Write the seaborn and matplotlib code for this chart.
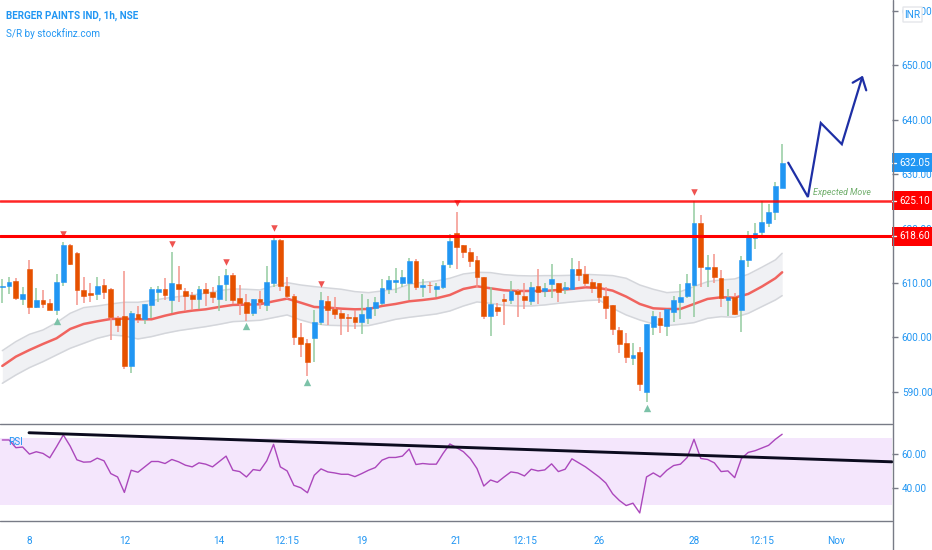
import matplotlib
matplotlib.use("Agg")
import matplotlib.pyplot as plt
from matplotlib.lines import Line2D
from matplotlib.patches import FancyBboxPatch, Rectangle
from matplotlib.transforms import blended_transform_factory
import numpy as np
import pandas as pd
import seaborn as sns

# candles, one value per hourly bar
opens = [609.33,609.51,610.43,607.06,612.51,605.59,606.87,606.32,605.10,610.18,
         616.98,615.45,608.71,608.16,608.04,609.69,608.96,603.51,603.93,594.68,
         604.30,603.38,606.02,608.41,608.96,606.94,609.88,608.53,607.79,607.12,
         608.96,608.35,607.12,609.75,611.53,607.24,606.51,604.55,607.06,606.02,
         609.94,617.90,609.45,607.61,600.01,598.91,599.89,602.83,606.69,605.16,
         604.42,603.75,603.75,602.83,603.56,605.40,606.32,608.96,610.24,610.06,
         609.94,613.98,609.20,609.69,608.96,609.33,613.49,619.19,616.98,615.70,
         614.23,611.16,603.93,605.59,607.06,606.87,608.53,607.61,606.75,609.51,
         608.53,609.88,610.06,608.90,608.90,612.51,611.59,610.24,610.06,607.61,
         606.02,601.30,598.91,596.16,597.38,590.03,601.97,603.51,602.16,604.73,
         606.57,607.67,609.57,621.03,612.63,612.88,610.98,606.94,607.37,605.04,
         614.23,618.33,619.37,621.03,622.99,627.40]
closes = [609.51,610.24,607.30,607.98,605.65,606.87,606.14,605.10,610.24,616.98,
          613.43,608.65,607.67,607.86,609.51,608.41,603.81,602.28,594.68,604.49,
          603.38,606.14,608.96,608.96,607.86,610.06,608.96,607.67,607.06,608.90,
          608.16,607.49,609.69,611.53,606.94,606.32,604.55,607.06,606.57,610.24,
          617.90,609.51,607.67,600.14,598.79,595.42,602.76,606.87,605.04,604.30,
          603.56,603.63,602.83,604.24,605.59,606.51,609.08,610.61,610.49,611.04,
          613.98,609.20,609.69,609.57,609.51,613.25,617.72,616.62,615.70,613.98,
          611.04,603.93,606.14,604.85,606.75,608.59,608.04,606.87,609.27,608.41,
          609.14,610.80,608.41,609.27,612.51,611.41,610.06,609.14,607.49,605.40,
          601.60,598.79,596.40,596.83,591.50,602.46,603.93,602.34,605.16,606.87,
          607.49,610.06,621.03,612.94,612.88,611.04,607.18,607.37,604.30,614.17,
          618.51,619.13,621.21,623.12,627.77,632.05]
highs = [610.74,611.04,610.98,609.20,614.23,609.02,608.71,607.06,611.59,617.54,
         617.11,615.70,611.16,609.94,611.04,610.67,609.02,603.93,612.14,604.85,
         605.77,606.14,609.33,609.45,610.86,615.70,613.12,609.02,608.41,609.51,
         609.94,609.33,611.35,612.57,611.78,609.69,607.98,607.06,608.59,613.12,
         618.51,618.03,611.04,607.92,602.59,599.64,605.04,608.41,607.61,607.49,
         605.04,604.30,605.04,607.98,607.12,607.49,610.67,611.22,612.70,612.39,
         614.53,614.35,610.67,610.24,609.94,614.04,619.01,623.12,616.98,616.37,
         614.96,611.16,609.20,606.38,607.98,610.43,608.84,610.06,610.24,612.51,
         610.06,613.49,610.06,610.24,614.53,614.04,613.12,610.67,610.06,609.33,
         606.02,601.97,600.75,598.91,598.18,602.46,604.85,604.73,605.16,607.67,
         609.75,611.59,625.07,622.50,615.15,615.33,612.39,608.84,608.10,614.96,
         619.56,620.97,625.07,624.52,628.63,635.55]
lows = [606.38,607.98,606.87,605.96,604.30,605.40,605.40,604.98,604.12,609.51,
        613.31,605.96,606.38,606.51,606.87,607.06,599.52,600.99,594.25,593.52,
        602.71,602.46,603.51,606.57,606.87,604.42,606.57,604.79,605.04,605.16,
        605.77,606.26,604.91,606.75,606.08,604.12,603.08,603.93,605.22,604.91,
        609.33,608.59,607.06,598.61,596.34,592.97,595.42,602.22,602.28,603.38,
        600.44,600.99,601.54,600.62,602.46,603.99,605.96,607.98,608.22,609.20,
        606.87,608.71,607.49,608.22,607.37,608.96,612.70,612.51,614.53,613.00,
        609.33,603.38,600.26,603.93,602.28,606.14,603.81,605.28,605.96,606.14,
        607.49,607.24,606.57,608.04,608.90,610.43,609.20,608.22,606.38,603.44,
        600.44,597.20,595.36,595.00,590.21,588.13,600.44,600.75,600.26,602.89,
        603.38,607.18,603.81,609.20,609.33,609.94,605.53,603.93,604.06,601.05,
        612.88,616.31,618.76,620.29,621.58,627.40]

# moving average and its band, read every second bar
ma_bars = list(range(0, 115, 2)) + [115]
ma_mid = [594.75,596.46,597.68,598.79,599.83,601.54,602.46,602.95,603.38,603.44,
          603.32,603.32,603.99,604.55,604.91,605.16,605.59,605.96,606.02,606.08,
          606.63,607.12,606.38,605.59,605.47,605.28,605.16,605.22,605.77,606.14,
          606.63,606.87,607.18,607.79,608.90,609.39,609.02,608.65,608.53,608.53,
          608.53,608.71,608.90,609.20,609.08,608.59,607.49,606.14,605.34,605.22,
          605.22,606.14,607.06,607.37,607.30,607.98,609.33,610.86,611.96]
ma_upper = [597.56,599.22,600.56,601.36,602.71,604.42,605.47,605.77,606.14,606.45,
            606.45,606.75,607.18,607.49,607.79,608.10,608.59,608.90,608.84,608.71,
            609.45,610.06,609.63,609.33,609.08,608.84,608.41,608.22,608.53,608.84,
            609.75,610.12,610.37,610.86,611.65,611.96,611.90,611.53,611.35,611.29,
            611.35,611.35,611.41,611.59,611.47,611.35,610.86,609.63,608.84,608.22,
            608.41,609.33,610.24,610.55,610.74,611.59,612.88,614.23,615.45]
ma_lower = [591.56,593.09,594.44,595.54,596.77,597.99,598.91,599.83,600.44,600.26,
            599.71,600.14,600.75,601.24,601.61,601.97,602.40,602.89,603.01,603.14,
            603.63,604.12,603.20,602.52,602.22,602.16,602.10,602.16,602.71,603.32,
            603.69,603.99,604.30,604.85,605.77,606.51,606.26,605.89,605.77,605.77,
            605.96,606.26,606.51,606.75,606.87,605.34,604.12,603.20,602.46,602.16,
            602.40,602.71,603.51,603.81,603.69,604.42,605.65,606.87,607.67]

# rsi, one value per bar
rsi = [68.6,68.6,64.0,64.4,60.2,61.6,60.6,58.0,64.6,71.6,65.0,56.8,55.4,55.6,57.8,56.2,
       48.6,46.6,37.4,50.6,49.4,52.6,55.8,55.8,54.6,57.0,55.6,53.6,52.6,55.0,54.2,52.6,
       55.8,59.0,50.6,49.8,46.6,51.0,50.4,56.2,66.0,52.6,50.2,41.6,40.2,37.2,47.6,51.4,
       49.6,49.0,48.2,48.2,46.8,48.6,50.6,52.2,56.6,58.2,58.2,59.0,63.2,54.0,54.6,54.2,
       54.2,60.6,66.2,64.0,61.6,57.6,51.6,41.2,44.8,43.4,46.6,49.6,49.0,47.2,51.2,50.2,
       50.8,54.4,49.8,51.2,57.4,55.0,52.6,49.6,46.6,43.0,36.6,32.6,29.6,31.0,25.2,46.6,
       49.0,46.6,50.6,53.4,54.2,58.2,69.0,57.6,57.0,55.0,49.8,50.2,46.2,57.6,61.2,62.2,
       63.8,65.4,69.0,72.0]

# signal triangles
sell_bars = [9, 25, 33, 40, 47, 67, 102]
sell_prices = [618.95, 617.11, 613.92, 620.05, 609.82, 624.64, 626.79]
buy_bars = [8, 36, 45, 95]
buy_prices = [603.01, 602.16, 591.86, 586.96]

# drawings
arrow_bars = [115.9, 118.8, 120.7, 123.8, 126.8]
arrow_prices = [632.1, 625.8, 639.4, 635.5, 647.8]
arrow_head_bars = [125.4, 126.8, 127.4]
arrow_head_prices = [646.8, 647.8, 645.4]
trend_bars = [3.94, 131.2]
trend_rsi = [72.9, 55.6]

price_ticks = [590, 600, 610, 620, 630, 640, 650, 660]
rsi_ticks = [40, 60]
date_bars = [4, 18, 32, 42, 53, 67, 77, 88, 102, 112, 123]
date_labels = ["8", "12", "14", "12:15", "19", "21", "12:15", "26", "28", "12:15", "Nov"]

BLUE = "#2196f3"
ORANGE = "#e65100"
AXIS = "#787b86"
LABEL_SIZE = 7.2
W, H = 932, 550

sns.set_theme(style="white")
plt.rcParams["font.family"] = ["Roboto", "DejaVu Sans"]

fig = plt.figure(figsize=(W / 100, H / 100), dpi=100)
ax = fig.add_axes([0, 1 - 424 / H, 892 / W, 424 / H])
ax2 = fig.add_axes([0, 1 - 520.5 / H, 892 / W, 96.5 / H])

candles = pd.DataFrame({"bar": range(len(opens)), "open": opens, "high": highs,
                        "low": lows, "close": closes})
up = candles["close"] >= candles["open"]

# band and moving average
ma = pd.DataFrame({"bar": ma_bars, "mid": ma_mid, "upper": ma_upper, "lower": ma_lower})
ax.fill_between(ma["bar"], ma["lower"], ma["upper"], color="#f0f1f4", lw=0, zorder=1)
sns.lineplot(data=ma, x="bar", y="upper", color="#d4d6db", lw=1.1, ax=ax, zorder=1.2)
sns.lineplot(data=ma, x="bar", y="lower", color="#d4d6db", lw=1.1, ax=ax, zorder=1.2)
sns.lineplot(data=ma, x="bar", y="mid", color="#f0645f", lw=1.8, ax=ax, zorder=1.4)

# wicks then bodies
wick_cols = np.where(up, "#93cba0", "#f4958c")
ax.vlines(candles["bar"], candles["low"], candles["high"], colors=wick_cols, lw=1.1, zorder=2)
body_low = candles[["open", "close"]].min(axis=1)
body_h = (candles["close"] - candles["open"]).abs()
body_cols = np.where(up, BLUE, ORANGE)
ax.bar(candles["bar"], body_h, bottom=body_low, width=0.7, color=body_cols,
       edgecolor=body_cols, lw=0.4, zorder=3)

# signals
sns.scatterplot(x=sell_bars, y=sell_prices, marker="v", s=22, color="#ef5350", lw=0,
                ax=ax, zorder=3.5)
sns.scatterplot(x=buy_bars, y=buy_prices, marker="^", s=28, color="#7cc2a8", lw=0,
                ax=ax, zorder=3.5)

# support and resistance
ax.axhline(625.10, color="#ff0000", lw=1.8, alpha=0.85, zorder=4)
ax.axhline(618.60, color="#ff0000", lw=2.2, zorder=4)

# expected move
ax.plot(arrow_bars, arrow_prices, color="#1e2fa5", lw=1.6, solid_joinstyle="miter", zorder=4)
ax.plot(arrow_head_bars, arrow_head_prices, color="#1e2fa5", lw=1.6, zorder=4)
ax.text(123.85, 626.7, "Expected Move", color="#6fae6b", fontsize=6.3, style="italic",
        ha="center", va="center", zorder=4)

ax.set_xlim(-0.34, 131.2)
ax.set_ylim(584.08, 662.0)
ax.set_yticks(price_ticks)
ax.set_yticklabels([f"{p:.2f}" for p in price_ticks])
ax.set_xticks([])
ax.yaxis.tick_right()
ax.tick_params(axis="y", length=4, width=1, color=AXIS, labelcolor=BLUE,
               labelsize=LABEL_SIZE, pad=3)
ax.set_xlabel("")
ax.set_ylabel("")

# rsi pane
ax2.axhspan(30, 70, color="#f4e6fc", lw=0, zorder=1)
sns.lineplot(x=range(len(rsi)), y=rsi, color="#ab47bc", lw=1.0, ax=ax2, zorder=2)
ax2.plot(trend_bars, trend_rsi, color="#0b0b1e", lw=2.1, zorder=3, clip_on=False)
ax2.text(0.9, 67.2, "RSI", color=BLUE, fontsize=LABEL_SIZE, va="center", zorder=4)
ax2.set_xlim(-0.34, 131.2)
ax2.set_ylim(20.7, 78.1)
ax2.set_yticks(rsi_ticks)
ax2.set_yticklabels([f"{v:.2f}" for v in rsi_ticks])
ax2.yaxis.tick_right()
ax2.set_xticks(date_bars)
ax2.set_xticklabels(date_labels)
ax2.tick_params(axis="y", length=4, width=1, color=AXIS, labelcolor=BLUE,
                labelsize=LABEL_SIZE, pad=3)
ax2.tick_params(axis="x", length=4, width=1, color=AXIS, labelcolor=BLUE,
                labelsize=LABEL_SIZE, pad=7)
ax2.set_xlabel("")
ax2.set_ylabel("")

for a in (ax, ax2):
    a.patch.set_alpha(0)
    for side in ("left", "top", "right", "bottom"):
        a.spines[side].set_visible(False)
    legend = a.get_legend()
    if legend:
        legend.remove()

# pane borders
fig.add_artist(Line2D([0, 892 / W], [1 - 424 / H] * 2, color=AXIS, lw=1))
fig.add_artist(Line2D([0, 892 / W], [1 - 520.5 / H] * 2, color=AXIS, lw=1))
fig.add_artist(Line2D([892.5 / W] * 2, [0, 1], color=AXIS, lw=1))

# price tags on the axis
trans = blended_transform_factory(ax.transAxes, ax.transData)
tag_h = 19 / 5.44
for price, col in [(632.05, BLUE), (625.10, "#ff0000"), (618.60, "#ff0000")]:
    ax.add_patch(Rectangle((1.0, price - tag_h / 2), 39.5 / 892, tag_h, transform=trans,
                           facecolor=col, edgecolor="none", clip_on=False, zorder=5))
    ax.plot([1.0, 1 + 4 / 892], [price, price], transform=trans, color="white", lw=1,
            clip_on=False, zorder=6)
    ax.text(1 + 7 / 892, price, f"{price:.2f}", transform=trans, color="white",
            fontsize=LABEL_SIZE, va="center", ha="left", clip_on=False, zorder=6)

# header texts
fig.text(6 / W, 1 - 16 / H, "BERGER PAINTS IND, 1h, NSE", color=BLUE, fontsize=7.1,
         weight="bold", va="center")
fig.text(6 / W, 1 - 34 / H, "S/R by stockfinz.com", color=BLUE, fontsize=7.1, va="center")

# currency button
fig.add_artist(FancyBboxPatch((903 / W, 1 - 22 / H), 19 / W, 15 / H,
                              boxstyle="round,pad=0", transform=fig.transFigure,
                              facecolor="white", edgecolor="#e4e6ea", lw=1))
fig.text(912.5 / W, 1 - 14.5 / H, "INR", color=BLUE, fontsize=LABEL_SIZE, ha="center", va="center")

fig.savefig("out.png", dpi=100)
